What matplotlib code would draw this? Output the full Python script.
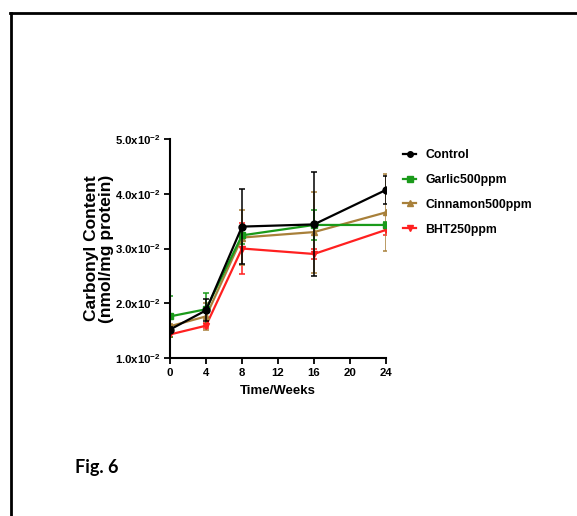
import matplotlib
matplotlib.use("Agg")
import matplotlib.pyplot as plt
from matplotlib.lines import Line2D

# data (x10^-2 nmol/mg protein)
weeks = [0, 4, 8, 16, 24]
control = [1.52, 1.87, 3.40, 3.44, 4.07]
control_err = [0.05, 0.20, 0.69, 0.95, 0.25]
garlic = [1.76, 1.89, 3.24, 3.43, 3.43]
garlic_err = [0.38, 0.30, 0.15, 0.27, 0.05]
cinnamon = [1.58, 1.76, 3.20, 3.30, 3.66]
cinnamon_err = [0.05, 0.24, 0.50, 0.74, 0.70]
bht = [1.43, 1.59, 3.00, 2.90, 3.34]
bht_err = [0.05, 0.05, 0.47, 0.10, 0.10]

x_ticks = [0, 4, 8, 12, 16, 20, 24]
y_ticks = [1, 2, 3, 4, 5]

plt.rcParams['font.family'] = ['Liberation Sans', 'DejaVu Sans']
plt.rcParams['mathtext.default'] = 'regular'

fig = plt.figure(figsize=(5.77, 5.16), dpi=100, facecolor='white')
ax = fig.add_axes([170 / 577, 1 - 358 / 516, 216 / 577, 219 / 516])

series = [
    ("Control", control, control_err, "black", "o"),
    ("Garlic500ppm", garlic, garlic_err, "#1a9a1a", "s"),
    ("Cinnamon500ppm", cinnamon, cinnamon_err, "#a8803a", "^"),
    ("BHT250ppm", bht, bht_err, "#ff2020", "v"),
]
handles = []
# draw control on top
for name, vals, err, col, mk in reversed(series):
    ax.errorbar(weeks, vals, yerr=err, color=col, marker=mk, markersize=5,
                linewidth=1.6, elinewidth=1.1, capsize=2.5, capthick=1.1,
                zorder=3 if name == "Control" else 2)
for name, vals, err, col, mk in series:
    handles.append(Line2D([], [], color=col, marker=mk, markersize=4,
                          linewidth=1.6, label=name))

ax.set_xlim(0, 24)
ax.set_ylim(1, 5)
ax.set_xticks(x_ticks)
ax.set_yticks(y_ticks)
ax.set_yticklabels([f"{v:.1f}x10$^{{-2}}$" for v in y_ticks])
for side in ['top', 'right']:
    ax.spines[side].set_visible(False)
for side in ['left', 'bottom']:
    ax.spines[side].set_linewidth(1.5)
ax.tick_params(direction='out', length=4, width=1.3, labelsize=8.2, pad=3)
for lbl in ax.get_xticklabels() + ax.get_yticklabels():
    lbl.set_fontweight('bold')
ax.set_xlabel("Time/Weeks", fontsize=9.5, fontweight='bold', labelpad=5)
ax.set_ylabel("Carbonyl Content\n(nmol/mg protein)", fontsize=12.5,
              fontweight='bold', linespacing=1.0)
ax.yaxis.set_label_coords((114 - 170) / 216, 0.5)

leg = fig.legend(handles=handles, loc='upper left',
                 bbox_to_anchor=(392 / 577, 1 - 138 / 516), frameon=False,
                 fontsize=8.8, handlelength=1.1, labelspacing=1.05,
                 handletextpad=0.7)
for t in leg.get_texts():
    t.set_fontweight('bold')

fig.text(75 / 577, 1 - 467 / 516, "Fig. 6", fontsize=13, fontweight='bold',
         family=['Lato', 'DejaVu Sans'], ha='left', va='center')

# page border (top and left)
fig.add_artist(Line2D([10 / 577, 1.0], [1 - 13 / 516, 1 - 13 / 516],
                      transform=fig.transFigure, color='black', linewidth=2))
fig.add_artist(Line2D([11 / 577, 11 / 577], [0, 1 - 13 / 516],
                      transform=fig.transFigure, color='black', linewidth=2))

fig.savefig("out.png", dpi=100, facecolor='white')
